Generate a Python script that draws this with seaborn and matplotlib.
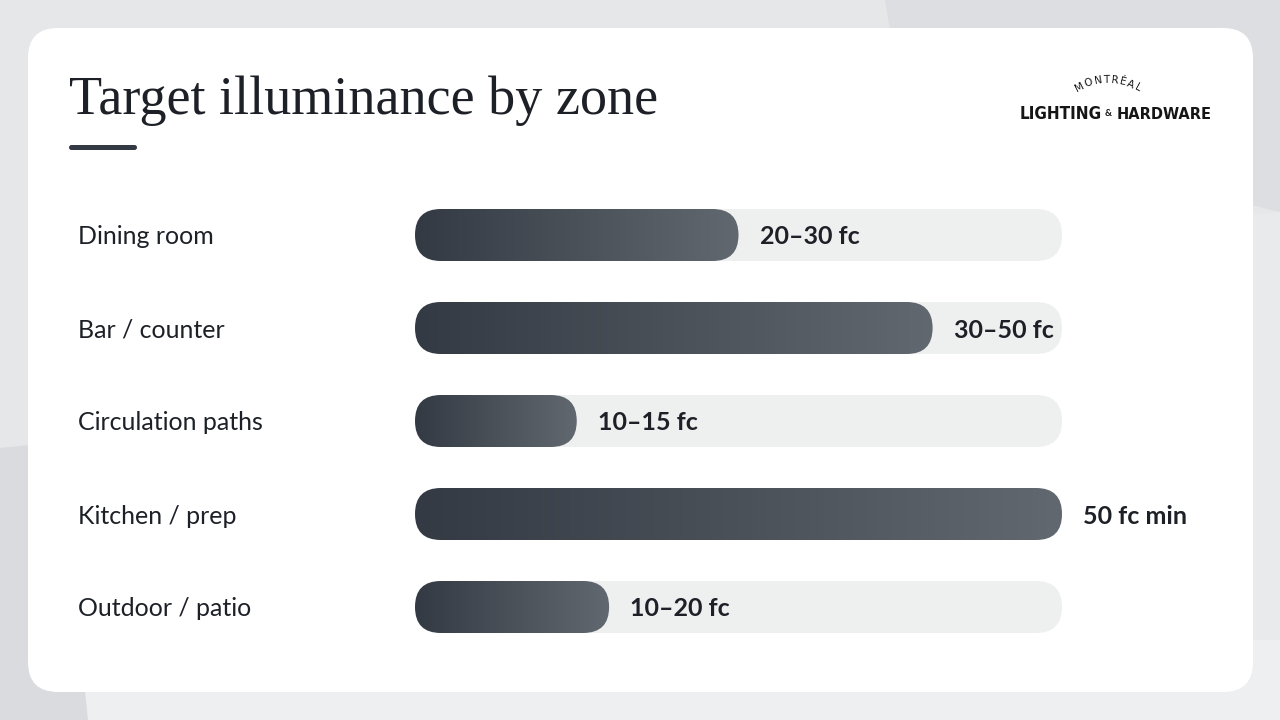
import numpy as np
import matplotlib
matplotlib.use("Agg")
import matplotlib.pyplot as plt
import matplotlib.transforms as mtransforms
from matplotlib import font_manager as fm
from matplotlib.patches import FancyBboxPatch, Polygon
from matplotlib.colors import LinearSegmentedColormap
import seaborn as sns

# data
ZONES = ["Dining room", "Bar / counter", "Circulation paths", "Kitchen / prep", "Outdoor / patio"]
RANGE_LABELS = ["20–30 fc", "30–50 fc", "10–15 fc", "50 fc min", "10–20 fc"]
MIDPOINTS = [25, 40, 12.5, 50, 15]   # fc, bar length
SCALE_MAX = 50

TITLE = "Target illuminance by zone"

BG = "#e6e7e9"
CARD = "#ffffff"
TRACK = "#eeefef"
INK = "#1d2127"
BAR_DARK = "#343a43"
BAR_LIGHT = "#62686f"

W, H = 1280, 720


def _condensed_bold():
    """Pick a narrow/condensed bold face for the logo if one is installed."""
    for f in fm.fontManager.ttflist:
        name = f.name.lower()
        narrow = "narrow" in name or "condensed" in name or f.stretch in ("condensed", "semi-condensed", "extra-condensed")
        if narrow and f.weight in ("bold", 700, "semibold", 600):
            return fm.FontProperties(fname=f.fname)
    return fm.FontProperties(family="DejaVu Sans", weight="bold")


def _fit_text(t, width_px, renderer):
    """Shrink a text until it is width_px wide."""
    w = t.get_window_extent(renderer).width
    if w > width_px:
        t.set_fontsize(t.get_fontsize() * width_px / w)


sns.set_theme(style="white")
plt.rcParams["font.family"] = ["Lato", "DejaVu Sans"]

fig = plt.figure(figsize=(W / 100, H / 100), dpi=100, facecolor=BG)
renderer = fig.canvas.get_renderer()

# background + card, pixel coords
bg = fig.add_axes([0, 0, 1, 1], zorder=0)
bg.set_xlim(0, W)
bg.set_ylim(H, 0)
bg.axis("off")
bg.add_patch(Polygon([(885, 0), (W, 0), (W, 212), (905, 120)], closed=True, fc="#dddee1", ec="none"))
bg.add_patch(Polygon([(W, 212), (W, H), (1000, H), (1000, 240)], closed=True, fc="#e9eaec", ec="none"))
bg.add_patch(Polygon([(0, 448), (80, 440), (88, H), (0, H)], closed=True, fc="#dadbde", ec="none"))
bg.add_patch(Polygon([(88, H), (80, 640), (W, 640), (W, H)], closed=True, fc="#eeeff0", ec="none"))
bg.add_patch(FancyBboxPatch((28, 28), 1225, 664, boxstyle="round,pad=0,rounding_size=30",
                            fc=CARD, ec="none"))

# title + accent underline
bg.text(69, 114, TITLE, fontsize=39, color=INK, va="baseline", ha="left",
        family=["Liberation Serif", "DejaVu Serif"])
bg.add_patch(FancyBboxPatch((69, 145), 68, 5, boxstyle="round,pad=0,rounding_size=2.5",
                            fc=BAR_DARK, ec="none"))

# logo
logo_fp = _condensed_bold()
t_left = bg.text(1020, 119, "LIGHTING", fontproperties=logo_fp, fontsize=19, color="#151515",
                 va="baseline", ha="left")
bg.text(1108, 116, "&", fontsize=7, fontweight="bold", color="#151515",
        va="baseline", ha="center")
t_right = bg.text(1212, 119, "HARDWARE", fontproperties=logo_fp, fontsize=19, color="#151515",
                  va="baseline", ha="right")
_fit_text(t_left, 82, renderer)
_fit_text(t_right, 95, renderer)

# "MONTRÉAL" on an arc, letters spaced by their own widths
arc = "MONTRÉAL"
cx, cy, r = 1108, 142, 62
arc_fp = fm.FontProperties(family="DejaVu Sans", size=7.5)
widths = [renderer.get_text_width_height_descent(ch, arc_fp, ismath=False)[0] + 1.5 for ch in arc]
total = sum(widths)
pos = np.cumsum(widths) - np.array(widths) / 2 - total / 2   # arc length from centre
for ch, s in zip(arc, pos):
    a = -s / r
    bg.text(cx - r * np.sin(a), cy - r * np.cos(a), ch, fontproperties=arc_fp, color="#151515",
            ha="center", va="center", rotation=np.rad2deg(a))

# bars
x0_px, x1_px = 415, 1062
row0, pitch = 235, 93
top = row0 - pitch / 2
height_px = pitch * len(ZONES)
ax = fig.add_axes([x0_px / W, 1 - (top + height_px) / H, (x1_px - x0_px) / W, height_px / H], zorder=2)
ax.patch.set_alpha(0)

bar_h = 52 / pitch
sns.barplot(x=MIDPOINTS, y=ZONES, orient="h", width=bar_h, ax=ax, color=BAR_DARK)
ax.set_xlim(0, SCALE_MAX)
ax.set_ylim(len(ZONES) - 0.5, -0.5)
ax.axis("off")

rx = 26 * SCALE_MAX / (x1_px - x0_px)
ry = bar_h / 2
grad = LinearSegmentedColormap.from_list("bar", [BAR_DARK, BAR_LIGHT])
ramp = np.linspace(0, 1, 256).reshape(1, -1)

for rect in list(ax.patches):
    bx, by, bw, bh = rect.get_x(), rect.get_y(), rect.get_width(), rect.get_height()
    rect.set_visible(False)
    track = FancyBboxPatch((0, by), SCALE_MAX, bh,
                           boxstyle=f"round,pad=0,rounding_size={rx * 0.999}",
                           mutation_aspect=ry / rx, fc=TRACK, ec="none", zorder=1)
    ax.add_patch(track)
    shape = FancyBboxPatch((bx, by), bw, bh,
                           boxstyle=f"round,pad=0,rounding_size={rx * 0.999}",
                           mutation_aspect=ry / rx, fc="none", ec="none", zorder=2)
    ax.add_patch(shape)
    im = ax.imshow(ramp, cmap=grad, extent=[bx, bx + bw, by + bh, by], aspect="auto",
                   interpolation="bicubic", zorder=3)
    im.set_clip_path(shape)

ax.set_xlim(0, SCALE_MAX)
ax.set_ylim(len(ZONES) - 0.5, -0.5)

label_off = 21 * SCALE_MAX / (x1_px - x0_px)
base_dy = 9.5 / pitch   # baseline sits a little below the bar centre
lbl_tf = mtransforms.blended_transform_factory(bg.transData, ax.transData)
for i, (zone, val, txt) in enumerate(zip(ZONES, MIDPOINTS, RANGE_LABELS)):
    ax.text(78, i + base_dy, zone, transform=lbl_tf, fontsize=18, color=INK,
            ha="left", va="baseline")
    ax.text(val + label_off, i + base_dy, txt, fontsize=18, fontweight="bold", color=INK,
            ha="left", va="baseline", zorder=5, clip_on=False)

fig.savefig("out.png", dpi=100, facecolor=BG)
